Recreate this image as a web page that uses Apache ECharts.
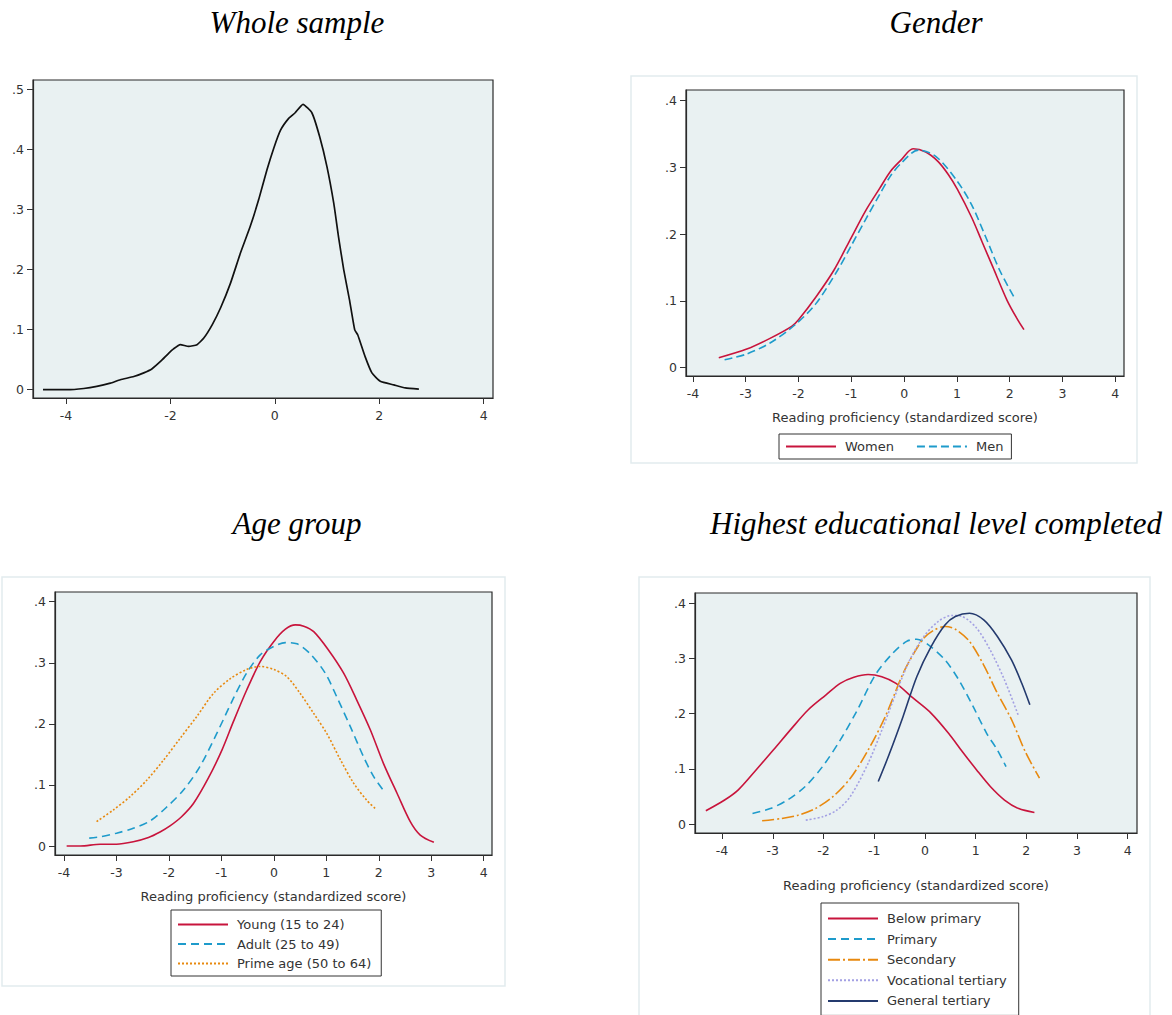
<!DOCTYPE html>
<html><head><meta charset="utf-8">
<script src="https://cdn.jsdelivr.net/npm/echarts@6.0.0/dist/echarts.min.js"></script>
<style>html,body{margin:0;padding:0;background:#fff}#c{width:1172px;height:1015px}</style>
</head><body><div id="c"></div>
<script>
// ---------- text ----------
const panelTitles = ['Whole sample', 'Gender', 'Age group', 'Highest educational level completed'];
const xAxisTitle = 'Reading proficiency (standardized score)';

// ---------- tick labels ----------
const xTicksWhole = [-4, -2, 0, 2, 4];
const xTicks = [-4, -3, -2, -1, 0, 1, 2, 3, 4];
const yTicksWhole = [0, 0.1, 0.2, 0.3, 0.4, 0.5];
const yTicks = [0, 0.1, 0.2, 0.3, 0.4];

// ---------- Whole sample ----------
const wholeX = [-4.44, -3.98, -3.66, -3.41, -3.15, -2.96, -2.70, -2.51, -2.35, -2.19, -2.03, -1.94, -1.81, -1.65, -1.49, -1.36, -1.20, -1.04, -0.85, -0.66, -0.47, -0.31, -0.15, -0.02, 0.11, 0.27, 0.39, 0.54, 0.71, 0.86, 1.00, 1.13, 1.22, 1.32, 1.43, 1.53, 1.59, 1.73, 1.86, 2.02, 2.28, 2.50, 2.76];
const wholeY = [0.000, 0.000, 0.002, 0.0055, 0.011, 0.0166, 0.022, 0.028, 0.035, 0.047, 0.061, 0.068, 0.075, 0.072, 0.075, 0.086, 0.108, 0.136, 0.177, 0.227, 0.272, 0.316, 0.366, 0.402, 0.432, 0.452, 0.461, 0.475, 0.461, 0.421, 0.371, 0.310, 0.255, 0.200, 0.150, 0.100, 0.091, 0.055, 0.028, 0.014, 0.008, 0.003, 0.001];

// ---------- Gender ----------
const genderNames = ['Women', 'Men'];
const womenX = [-3.51, -2.98, -2.54, -2.13, -2.00, -1.67, -1.33, -1.00, -0.73, -0.46, -0.26, -0.06, 0.17, 0.41, 0.64, 0.84, 1.01, 1.28, 1.48, 1.68, 1.95, 2.15, 2.27];
const womenY = [0.015, 0.028, 0.044, 0.062, 0.072, 0.106, 0.146, 0.195, 0.235, 0.269, 0.294, 0.311, 0.328, 0.323, 0.309, 0.289, 0.267, 0.225, 0.188, 0.151, 0.101, 0.072, 0.057];
const menX = [-3.40, -3.00, -2.54, -2.07, -1.67, -1.26, -1.00, -0.73, -0.46, -0.26, -0.06, 0.27, 0.61, 1.01, 1.28, 1.55, 1.81, 2.08];
const menY = [0.012, 0.020, 0.037, 0.064, 0.096, 0.146, 0.183, 0.222, 0.260, 0.287, 0.306, 0.326, 0.316, 0.279, 0.244, 0.195, 0.146, 0.106];

// ---------- Age group ----------
const ageNames = ['Young (15 to 24)', 'Adult (25 to 49)', 'Prime age (50 to 64)'];
const youngX = [-3.95, -3.69, -3.31, -3.00, -2.68, -2.39, -2.17, -1.98, -1.76, -1.53, -1.25, -0.99, -0.77, -0.52, -0.26, 0.00, 0.22, 0.41, 0.57, 0.76, 1.04, 1.33, 1.58, 1.84, 2.09, 2.35, 2.60, 2.79, 3.05];
const youngY = [0.000, 0.000, 0.003, 0.003, 0.007, 0.014, 0.023, 0.033, 0.048, 0.070, 0.111, 0.157, 0.204, 0.255, 0.302, 0.335, 0.355, 0.362, 0.360, 0.351, 0.321, 0.283, 0.239, 0.190, 0.135, 0.086, 0.040, 0.018, 0.006];
const adultX = [-3.52, -3.31, -3.00, -2.68, -2.36, -2.04, -1.72, -1.41, -1.09, -0.77, -0.52, -0.26, 0.00, 0.22, 0.44, 0.69, 0.98, 1.20, 1.46, 1.71, 1.90, 2.08];
const adultY = [0.013, 0.015, 0.021, 0.029, 0.041, 0.064, 0.092, 0.130, 0.184, 0.242, 0.283, 0.313, 0.327, 0.333, 0.331, 0.315, 0.283, 0.244, 0.195, 0.146, 0.114, 0.092];
const primeX = [-3.38, -3.06, -2.74, -2.42, -2.10, -1.79, -1.47, -1.15, -0.83, -0.52, -0.26, 0.00, 0.25, 0.50, 0.76, 1.01, 1.27, 1.52, 1.77, 1.95];
const primeY = [0.040, 0.059, 0.081, 0.108, 0.141, 0.176, 0.212, 0.250, 0.274, 0.289, 0.294, 0.289, 0.277, 0.250, 0.217, 0.184, 0.141, 0.103, 0.075, 0.060];

// ---------- Education ----------
const eduNames = ['Below primary', 'Primary', 'Secondary', 'Vocational tertiary', 'General tertiary'];
const belowX = [-4.32, -3.95, -3.68, -3.33, -2.99, -2.64, -2.30, -1.95, -1.67, -1.40, -1.12, -0.85, -0.57, -0.23, 0.12, 0.47, 0.74, 1.02, 1.29, 1.57, 1.85, 2.16];
const belowY = [0.024, 0.0435, 0.062, 0.098, 0.134, 0.172, 0.207, 0.234, 0.255, 0.266, 0.271, 0.267, 0.255, 0.228, 0.201, 0.164, 0.131, 0.098, 0.068, 0.0435, 0.028, 0.021];
const primaryX = [-3.40, -3.05, -2.71, -2.36, -2.02, -1.67, -1.33, -0.98, -0.64, -0.36, -0.16, 0.05, 0.40, 0.67, 0.95, 1.22, 1.43, 1.60];
const primaryY = [0.019, 0.028, 0.0435, 0.068, 0.104, 0.152, 0.207, 0.270, 0.309, 0.331, 0.335, 0.326, 0.297, 0.261, 0.213, 0.164, 0.134, 0.104];
const secondaryX = [-3.21, -2.85, -2.50, -2.16, -1.81, -1.47, -1.12, -0.78, -0.43, -0.22, -0.02, 0.19, 0.40, 0.60, 0.88, 1.16, 1.43, 1.71, 1.98, 2.26];
const secondaryY = [0.006, 0.0097, 0.016, 0.028, 0.050, 0.083, 0.134, 0.195, 0.273, 0.309, 0.337, 0.352, 0.358, 0.353, 0.331, 0.288, 0.237, 0.189, 0.131, 0.083];
const vocX = [-2.35, -2.02, -1.74, -1.47, -1.12, -0.85, -0.57, -0.30, -0.02, 0.26, 0.53, 0.74, 1.02, 1.29, 1.57, 1.85];
const vocY = [0.007, 0.013, 0.025, 0.050, 0.110, 0.170, 0.237, 0.297, 0.340, 0.367, 0.378, 0.376, 0.355, 0.315, 0.261, 0.195];
const generalX = [-0.92, -0.71, -0.43, -0.16, 0.12, 0.40, 0.60, 0.88, 1.16, 1.43, 1.71, 1.91, 2.07];
const generalY = [0.077, 0.125, 0.195, 0.267, 0.321, 0.361, 0.376, 0.382, 0.370, 0.340, 0.297, 0.255, 0.216];

// ---------- styling ----------
const FONT = 'DejaVu Sans';
const TXT = '#333333';
const PLOT_BG = '#E9F1F2';
const C_RED = '#C8143C', C_BLUE = '#1E9BCB', C_ORANGE = '#E8890F', C_LAV = '#A3A0E3', C_NAVY = '#243A6E';

const zip = (xs, ys) => xs.map((x, i) => [x, ys[i]]);
const yFmt = v => (v === 0 ? '0' : String(v).replace(/^0\./, '.'));

const grids = [
  { left: 33, top: 80, width: 460, height: 318 },
  { left: 686, top: 90, width: 438, height: 286 },
  { left: 55, top: 592, width: 437, height: 263 },
  { left: 695, top: 593, width: 442, height: 240 }
].map(g => Object.assign(g, {
  show: true, backgroundColor: PLOT_BG, borderColor: '#2a2a2a', borderWidth: 1.2,
  containLabel: false, outerBoundsMode: 'none'
}));

const xRanges = [[-4.632, 4.18], [-4.131, 4.165], [-4.172, 4.158], [-4.534, 4.183]];
const yRanges = [[-0.0138, 0.5155], [-0.0124, 0.416], [-0.0147, 0.4159], [-0.0163, 0.4187]];
const nameGaps = [0, 35, 35, 46];

const xAxes = xRanges.map((r, i) => {
  const ticks = i === 0 ? xTicksWhole : xTicks;
  return {
    type: 'value', gridIndex: i, min: r[0], max: r[1],
    name: i === 0 ? '' : xAxisTitle, nameLocation: 'middle', nameGap: nameGaps[i],
    nameTextStyle: { fontFamily: FONT, fontSize: 13, color: TXT },
    axisLine: { show: true, onZero: false, lineStyle: { color: '#2a2a2a', width: 1.2 } },
    axisTick: { show: true, length: 6, customValues: ticks, lineStyle: { color: '#333', width: 1 } },
    axisLabel: { customValues: ticks, margin: 11, fontFamily: FONT, fontSize: 12.5, color: TXT },
    splitLine: { show: false }
  };
});
const yAxes = yRanges.map((r, i) => {
  const ticks = i === 0 ? yTicksWhole : yTicks;
  return {
    type: 'value', gridIndex: i, min: r[0], max: r[1],
    axisLine: { show: true, onZero: false, lineStyle: { color: '#2a2a2a', width: 1.2 } },
    axisTick: { show: true, length: 6, customValues: ticks, lineStyle: { color: '#333', width: 1 } },
    axisLabel: { customValues: ticks, margin: 9, fontFamily: FONT, fontSize: 12.5, color: TXT, formatter: yFmt },
    splitLine: { show: false }
  };
});

function line(name, xs, ys, g, color, type, width, smooth) {
  return {
    type: 'line', name, xAxisIndex: g, yAxisIndex: g, data: zip(xs, ys),
    symbol: 'none', smooth: smooth == null ? 0.3 : smooth,
    lineStyle: { color, width: width || 1.6, type: type || 'solid' },
    itemStyle: { color }, silent: true, animation: false
  };
}

const series = [
  line('Whole sample', wholeX, wholeY, 0, '#111111', 'solid', 1.7, 0.15),
  line(genderNames[0], womenX, womenY, 1, C_RED, 'solid', 1.6),
  line(genderNames[1], menX, menY, 1, C_BLUE, [8, 4], 1.6),
  line(ageNames[0], youngX, youngY, 2, C_RED, 'solid', 1.6),
  line(ageNames[1], adultX, adultY, 2, C_BLUE, [8, 5], 1.6),
  line(ageNames[2], primeX, primeY, 2, C_ORANGE, [2, 2], 1.6),
  line(eduNames[0], belowX, belowY, 3, C_RED, 'solid', 1.6),
  line(eduNames[1], primaryX, primaryY, 3, C_BLUE, [8, 5], 1.6),
  line(eduNames[2], secondaryX, secondaryY, 3, C_ORANGE, [12, 3, 2, 3], 1.6),
  line(eduNames[3], vocX, vocY, 3, C_LAV, [2, 2], 1.6),
  line(eduNames[4], generalX, generalY, 3, C_NAVY, 'solid', 1.6)
];

const legendText = { fontFamily: FONT, fontSize: 13, color: TXT, padding: [0, 0, 0, 4] };
const legendBase = {
  selectedMode: false, borderColor: '#333', borderWidth: 1, backgroundColor: '#fff',
  itemWidth: 50, textStyle: legendText, itemStyle: { opacity: 0 }
};
const legends = [
  Object.assign({}, legendBase, { data: genderNames, orient: 'horizontal', left: 779, top: 434,
    itemHeight: 12, itemGap: 22, padding: [6, 8, 6, 6] }),
  Object.assign({}, legendBase, { data: ageNames, orient: 'vertical', left: 171, top: 910,
    itemHeight: 12, itemGap: 6.5, padding: [8, 10, 6, 6] }),
  Object.assign({}, legendBase, { data: eduNames, orient: 'vertical', left: 821, top: 903,
    height: 130, itemHeight: 12, itemGap: 7.6, padding: [9, 12, 8, 6] })
];

const titleStyle = { fontFamily: 'Liberation Serif', fontStyle: 'italic', fontWeight: 'normal', fontSize: 31, color: '#000' };
const titles = [
  { text: panelTitles[0], left: 292, top: 2, textAlign: 'center', textStyle: titleStyle },
  { text: panelTitles[1], left: 931, top: 2, textAlign: 'center', textStyle: titleStyle },
  { text: panelTitles[2], left: 292, top: 503, textAlign: 'center', textStyle: titleStyle },
  { text: panelTitles[3], left: 931, top: 503, textAlign: 'center', textStyle: titleStyle }
];

const frameStyle = { fill: 'none', stroke: '#E2EBEE', lineWidth: 1.5 };
const graphic = [
  { type: 'rect', shape: { x: 631, y: 76, width: 506, height: 387 }, style: frameStyle, silent: true, z: -1 },
  { type: 'rect', shape: { x: 2, y: 577, width: 503, height: 409 }, style: frameStyle, silent: true, z: -1 },
  { type: 'rect', shape: { x: 639, y: 577, width: 511, height: 460 }, style: frameStyle, silent: true, z: -1 }
];

const chart = echarts.init(document.getElementById('c'), null, { renderer: 'svg', width: 1172, height: 1015 });
chart.setOption({
  animation: false,
  backgroundColor: '#ffffff',
  title: titles,
  grid: grids,
  xAxis: xAxes,
  yAxis: yAxes,
  legend: legends,
  graphic: graphic,
  series: series
});
</script>
</body></html>
